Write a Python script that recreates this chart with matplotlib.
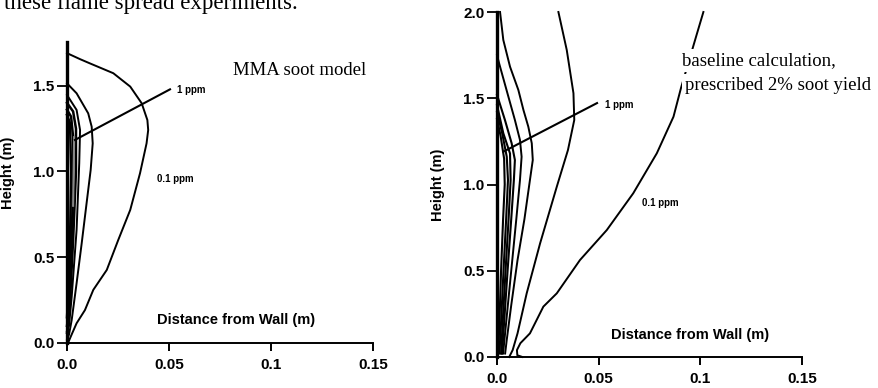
import numpy as np
import matplotlib.pyplot as plt

plt.rcParams['font.family'] = 'Liberation Sans'

# ---- tick values / labels ----
xticks = [0.0, 0.05, 0.1, 0.15]
xticklabels = ['0.0', '0.05', '0.1', '0.15']
yticks_left = [0.0, 0.5, 1.0, 1.5]
yticks_right = [0.0, 0.5, 1.0, 1.5, 2.0]

# ---- left panel: MMA soot model contours (x = distance from wall, y = height) ----
L1_x = [0.0, 0.0064, 0.0113, 0.0227, 0.031, 0.0366, 0.0394, 0.0398, 0.039, 0.0358, 0.031, 0.0251, 0.0195, 0.0129, 0.0088, 0.0047, 0.0023, 0.0005]
L1_y = [1.69, 1.655, 1.63, 1.573, 1.495, 1.398, 1.30, 1.242, 1.164, 0.99, 0.776, 0.60, 0.426, 0.31, 0.192, 0.115, 0.05, 0.0]
L2_x = [0.0, 0.0047, 0.0104, 0.0121, 0.0126, 0.0116, 0.0096, 0.0072, 0.0047, 0.0023, 0.001, 0.0]
L2_y = [1.514, 1.456, 1.339, 1.261, 1.164, 1.009, 0.815, 0.581, 0.348, 0.134, 0.05, 0.02]
L3_x = [0.0, 0.0047, 0.0064, 0.006, 0.0047, 0.0023, 0.001, 0.0]
L3_y = [1.446, 1.359, 1.242, 1.048, 0.659, 0.27, 0.1, 0.07]
L4_x = [0.0, 0.003, 0.0044, 0.0044, 0.003, 0.0015, 0.0]
L4_y = [1.40, 1.35, 1.25, 1.0, 0.6, 0.25, 0.06]
L5_x = [0.0, 0.002, 0.003, 0.003, 0.002, 0.001, 0.0]
L5_y = [1.36, 1.32, 1.2, 0.9, 0.5, 0.2, 0.1]
L6_x = [0.0, 0.0015, 0.002, 0.0015, 0.0007, 0.0]
L6_y = [1.33, 1.28, 1.0, 0.6, 0.3, 0.15]
left_contours = [(L1_x, L1_y), (L2_x, L2_y), (L3_x, L3_y), (L4_x, L4_y), (L5_x, L5_y), (L6_x, L6_y)]

# ---- right panel: baseline calculation contours ----
R1_x = [0.0125, 0.0100, 0.0098, 0.0115, 0.0162, 0.0228, 0.0294, 0.0408, 0.054, 0.067, 0.0786, 0.0868, 0.0905, 0.098, 0.1015]
R1_y = [0.0, 0.01, 0.04, 0.08, 0.137, 0.292, 0.369, 0.562, 0.736, 0.949, 1.181, 1.393, 1.56, 1.861, 2.0]
R2_x = [0.0302, 0.0343, 0.0376, 0.038, 0.0349, 0.0294, 0.0212, 0.0146, 0.0101, 0.0077, 0.006]
R2_y = [2.0, 1.78, 1.529, 1.374, 1.2, 0.987, 0.659, 0.369, 0.137, 0.04, 0.0]
R3_x = [0.0015, 0.0031, 0.0064, 0.0105, 0.013, 0.0154, 0.0171, 0.0176, 0.0162, 0.0135, 0.0101, 0.007, 0.0048, 0.004]
R3_y = [2.0, 1.838, 1.683, 1.548, 1.432, 1.335, 1.239, 1.142, 1.026, 0.80, 0.562, 0.30, 0.10, 0.02]
R4_x = [0.0, 0.0011, 0.0056, 0.0088, 0.0113, 0.0121, 0.0113, 0.0095, 0.007, 0.0045, 0.003]
R4_y = [1.75, 1.70, 1.509, 1.374, 1.258, 1.161, 1.026, 0.80, 0.50, 0.20, 0.02]
R5_x = [0.0, 0.0039, 0.0072, 0.0088, 0.0083, 0.007, 0.0052, 0.0035, 0.0025]
R5_y = [1.52, 1.374, 1.239, 1.142, 1.026, 0.80, 0.50, 0.20, 0.02]
R6_x = [0.0, 0.0031, 0.0064, 0.0067, 0.0057, 0.0042, 0.0028, 0.002]
R6_y = [1.46, 1.297, 1.18, 1.026, 0.80, 0.50, 0.20, 0.02]
R7_x = [0.0, 0.0025, 0.0048, 0.0054, 0.0045, 0.0032, 0.002, 0.0012]
R7_y = [1.42, 1.30, 1.161, 1.026, 0.80, 0.50, 0.20, 0.02]
R8_x = [0.0, 0.0018, 0.0035, 0.0038, 0.003, 0.002, 0.0012, 0.0006]
R8_y = [1.38, 1.28, 1.15, 1.0, 0.8, 0.5, 0.2, 0.03]
right_contours = [(R1_x, R1_y), (R2_x, R2_y), (R3_x, R3_y), (R4_x, R4_y),
                  (R5_x, R5_y), (R6_x, R6_y), (R7_x, R7_y), (R8_x, R8_y)]

# leader lines for "1 ppm" labels (start, end)
lead_left = ((0.0505, 1.479), (0.0039, 1.184))
lead_right = ((0.0492, 1.472), (0.0031, 1.19))

W, H = 879, 388
fig = plt.figure(figsize=(W / 100, H / 100), dpi=100)

def style_axes(ax, ymax, yticks):
    ax.set_xlim(0, 0.15)
    ax.set_ylim(0, ymax)
    ax.spines['top'].set_visible(False)
    ax.spines['right'].set_visible(False)
    ax.spines['left'].set_linewidth(2.4)
    ax.spines['bottom'].set_linewidth(1.4)
    ax.set_xticks(xticks)
    ax.set_xticklabels(xticklabels)
    ax.set_yticks(yticks)
    ax.set_yticklabels(['%.1f' % v for v in yticks])
    ax.tick_params(axis='x', direction='out', length=6, width=1.4, pad=5, labelsize=11)
    ax.tick_params(axis='y', direction='out', length=7, width=1.3, pad=2, labelsize=11)
    for lab in ax.get_xticklabels() + ax.get_yticklabels():
        lab.set_fontweight('bold')
    ax.set_ylabel('Height (m)', fontsize=10.5, fontweight='bold')

# left panel
ax1 = fig.add_axes([67 / W, 45 / H, 306 / W, 301 / H])
style_axes(ax1, 1.755, yticks_left)
for i, (cx, cy) in enumerate(left_contours):
    ax1.plot(cx, cy, color='black', lw=1.4 if i < 3 else 1.8, clip_on=False)
ax1.plot([0.003, 0.0035], [0.8, 1.2], color='#888888', lw=1.5)
ax1.yaxis.set_label_coords(-0.17, 0.565)
ax1.text(0.551, 0.076, 'Distance from Wall (m)', transform=ax1.transAxes,
         ha='center', va='center', fontsize=10.5, fontweight='bold')
ax1.plot(*zip(*lead_left), color='black', lw=1.5)
ax1.text(0.0538, 1.475, '1 ppm', fontsize=7, fontweight='bold', va='center')
ax1.text(0.044, 0.956, '0.1 ppm', fontsize=7, fontweight='bold', va='center')

# right panel
ax2 = fig.add_axes([497 / W, 31 / H, 305 / W, 345 / H])
style_axes(ax2, 2.0, yticks_right)
for i, (cx, cy) in enumerate(right_contours):
    ax2.plot(cx, cy, color='black', lw=1.4 if i < 4 else 1.5, clip_on=False)
ax2.yaxis.set_label_coords(-0.17, 0.50)
ax2.text(0.633, 0.064, 'Distance from Wall (m)', transform=ax2.transAxes,
         ha='center', va='center', fontsize=10.5, fontweight='bold')
ax2.plot(*zip(*lead_right), color='black', lw=1.5)
ax2.text(0.0531, 1.461, '1 ppm', fontsize=7, fontweight='bold', va='center')
ax2.text(0.0713, 0.893, '0.1 ppm', fontsize=7, fontweight='bold', va='center')

# serif annotations
serif = 'Liberation Serif'
fig.text(4 / W, 1 - 8.5 / H, 'these flame spread experiments.', family=serif,
         fontsize=16.5, va='baseline')
fig.text(233 / W, 1 - 75 / H, 'MMA soot model', family=serif, fontsize=13.5, va='baseline')
fig.text(682 / W, 1 - 65 / H, 'baseline calculation,', family=serif, fontsize=13.5,
         va='baseline', bbox=dict(facecolor='white', edgecolor='none', pad=2))
fig.text(685 / W, 1 - 90 / H, 'prescribed 2% soot yield', family=serif, fontsize=13.5,
         va='baseline', bbox=dict(facecolor='white', edgecolor='none', pad=2))

fig.savefig('out.png', dpi=100)
